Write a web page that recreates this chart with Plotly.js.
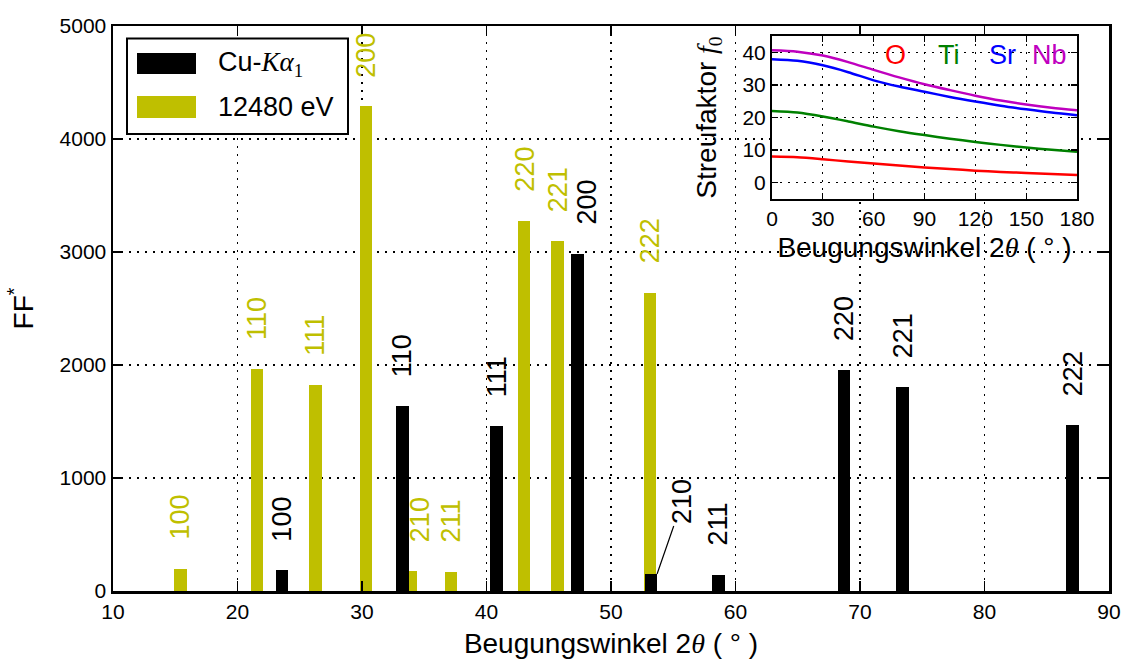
<!DOCTYPE html>
<html><head><meta charset="utf-8">
<script src="https://cdn.plot.ly/plotly-3.0.1.min.js"></script>
<style>html,body{margin:0;padding:0;background:#fff}#chart{width:1124px;height:662px}</style>
</head><body><div id="chart"></div>
<script>
// ---- data: main chart ----
const reflexes = ['100','110','111','200','210','211','220','221','222'];
const angle12480 = [15.41,21.55,26.27,30.32,33.88,37.15,43.02,45.70,53.14];
const ff12480    = [198,1968,1826,4289,174,168,3274,3095,2641];
const angleCu    = [23.56,33.24,40.80,47.31,53.20,58.63,68.70,73.43,87.08];
const ffCu       = [183,1634,1457,2986,150,145,1959,1805,1469];
const seriesNames = ['Cu-K\u03b11','12480 eV'];

// ---- data: inset (atomic scattering factor f0) ----
const inset2theta = [0,15,30,45,60,75,90,105,120,135,150,165,180];
const f0_O  = [8.0,7.8,7.2,6.5,5.9,5.3,4.7,4.2,3.7,3.3,3.0,2.7,2.4];
const f0_Ti = [22.0,21.5,20.3,18.8,17.2,15.8,14.6,13.5,12.5,11.6,10.8,10.1,9.5];
const f0_Sr = [37.9,37.4,36.0,33.9,31.4,29.5,27.9,26.3,24.9,23.6,22.5,21.5,20.7];
const f0_Nb = [40.6,40.2,39.0,37.0,34.6,32.3,30.2,28.4,26.7,25.2,24.0,23.0,22.2];
const elements = ['O','Ti','Sr','Nb'];

// ---- styles ----
const OLIVE = '#BFBF00';
const FONT = 'Liberation Sans, Arial, Helvetica, sans-serif';
const SERIF_I = 'font-family:Liberation Serif;font-style:italic';
const elemColors = {O:'#FF0000', Ti:'#008000', Sr:'#0000FF', Nb:'#BF00BF'};
const elemSeries = {O:f0_O, Ti:f0_Ti, Sr:f0_Sr, Nb:f0_Nb};
const elemLabelX = {O:73, Ti:104.5, Sr:136, Nb:164};
const labelXShift = {e12480_210: 10, cu_200: 10};

// plot area in px (for paper-positioned legend)
const L = 113, R = 15, T = 26, B = 71, W = 1124 - L - R, H = 662 - T - B;
const px = x => (x - L) / W;
const py = y => (662 - B - y) / H;

const traces = [
  {type:'bar', x:angle12480, y:ff12480, name:seriesNames[1], width:1.0,
   marker:{color:OLIVE, line:{width:0}}, xaxis:'x', yaxis:'y', showlegend:false, hoverinfo:'x+y'},
  {type:'bar', x:angleCu, y:ffCu, name:seriesNames[0], width:1.0,
   marker:{color:'#000000', line:{width:0}}, xaxis:'x', yaxis:'y', showlegend:false, hoverinfo:'x+y'}
];
elements.forEach(el => {
  traces.push({type:'scatter', mode:'lines', x:inset2theta, y:elemSeries[el], name:el,
    line:{color:elemColors[el], width:2.5, shape:'spline', smoothing:0.8},
    xaxis:'x2', yaxis:'y2', showlegend:false});
});

const annotations = [];
reflexes.forEach((r,i) => {
  annotations.push({x:angle12480[i], y:ff12480[i], xref:'x', yref:'y', text:r,
    textangle:-90, showarrow:false, xanchor:'center', yanchor:'bottom', yshift:27,
    xshift: labelXShift['e12480_'+r] || 0,
    font:{family:FONT, size:27, color:OLIVE}});
});
reflexes.forEach((r,i) => {
  if (r === '210') {
    annotations.push({x:angleCu[i] + 0.5, y:ffCu[i], xref:'x', yref:'y', text:r,
      textangle:-90, showarrow:true, arrowhead:0, arrowwidth:1.2, arrowcolor:'#000',
      standoff:0, ax:25, ay:-72, font:{family:FONT, size:27, color:'#000'}});
  } else {
    annotations.push({x:angleCu[i], y:ffCu[i], xref:'x', yref:'y', text:r,
      textangle:-90, showarrow:false, xanchor:'center', yanchor:'bottom', yshift:27,
      xshift: labelXShift['cu_'+r] || 0,
      font:{family:FONT, size:27, color:'#000'}});
  }
});
elements.forEach(el => {
  annotations.push({x:elemLabelX[el], y:39.2, xref:'x2', yref:'y2', text:el, showarrow:false,
    xanchor:'center', yanchor:'middle', font:{family:FONT, size:27, color:elemColors[el]}});
});
// legend texts
annotations.push({x:px(216), y:py(64), xref:'paper', yref:'paper', xanchor:'left', yanchor:'middle',
  showarrow:false, text:'Cu-<span style="'+SERIF_I+'">K\u03b1</span><sub><span style="font-family:Liberation Serif">1</span></sub>',
  font:{family:FONT, size:27, color:'#000'}});
annotations.push({x:px(216), y:py(107), xref:'paper', yref:'paper', xanchor:'left', yanchor:'middle',
  showarrow:false, text:seriesNames[1], font:{family:FONT, size:27, color:'#000'}});

const shapes = [
  {type:'rect', xref:'paper', yref:'paper', x0:px(127), x1:px(348), y0:py(38.5), y1:py(134),
   fillcolor:'#fff', line:{color:'#000', width:2}, layer:'above'},
  {type:'rect', xref:'paper', yref:'paper', x0:px(137), x1:px(196), y0:py(53), y1:py(74),
   fillcolor:'#000', line:{width:0}, layer:'above'},
  {type:'rect', xref:'paper', yref:'paper', x0:px(137), x1:px(196), y0:py(96), y1:py(118),
   fillcolor:OLIVE, line:{width:0}, layer:'above'}
];

const gridDash = '2px,6px';
const axBase = {showline:true, linecolor:'#000', mirror:'ticks', ticks:'inside',
  tickcolor:'#000', showgrid:true, gridcolor:'#000', griddash:gridDash, gridwidth:1.3,
  zeroline:false, tickfont:{family:FONT, size:21, color:'#000'}};
const thetaTitle = 'Beugungswinkel 2<span style="'+SERIF_I+'">\u03b8</span> ( \u00b0 )';

const layout = {
  width:1124, height:662, margin:{l:L, r:R, t:T, b:B},
  paper_bgcolor:'#fff', plot_bgcolor:'#fff', barmode:'overlay', bargap:0,
  font:{family:FONT, color:'#000'}, showlegend:false,
  xaxis: Object.assign({}, axBase, {range:[10,90], dtick:10, tick0:10, linewidth:2.5, ticklen:10, tickwidth:1.5,
    domain:[0,1], anchor:'y',
    title:{text:thetaTitle, font:{family:FONT, size:28}, standoff:12}}),
  yaxis: Object.assign({}, axBase, {range:[0,5000], dtick:1000, linewidth:2.5, ticklen:10, tickwidth:1.5,
    domain:[0,1], anchor:'x',
    title:{text:'FF<sup>*</sup>', font:{family:FONT, size:28}, standoff:18}}),
  xaxis2: Object.assign({}, axBase, {range:[0,180], dtick:30, tick0:0, linewidth:2, ticklen:6, tickwidth:1.3,
    domain:[px(772), px(1077)], anchor:'y2',
    title:{text:thetaTitle, font:{family:FONT, size:28}, standoff:8}}),
  yaxis2: Object.assign({}, axBase, {range:[-5,45], tickvals:[0,10,20,30,40], linewidth:2, ticklen:6, tickwidth:1.3,
    domain:[py(199), py(36)], anchor:'x2',
    title:{text:'Streufaktor <span style="'+SERIF_I+'">f</span><sub><span style="font-family:Liberation Serif">0</span></sub>', font:{family:FONT, size:28}, standoff:18}}),
  annotations: annotations,
  shapes: shapes
};

Plotly.newPlot('chart', traces, layout, {staticPlot:true, displayModeBar:false});
</script>
</body></html>
